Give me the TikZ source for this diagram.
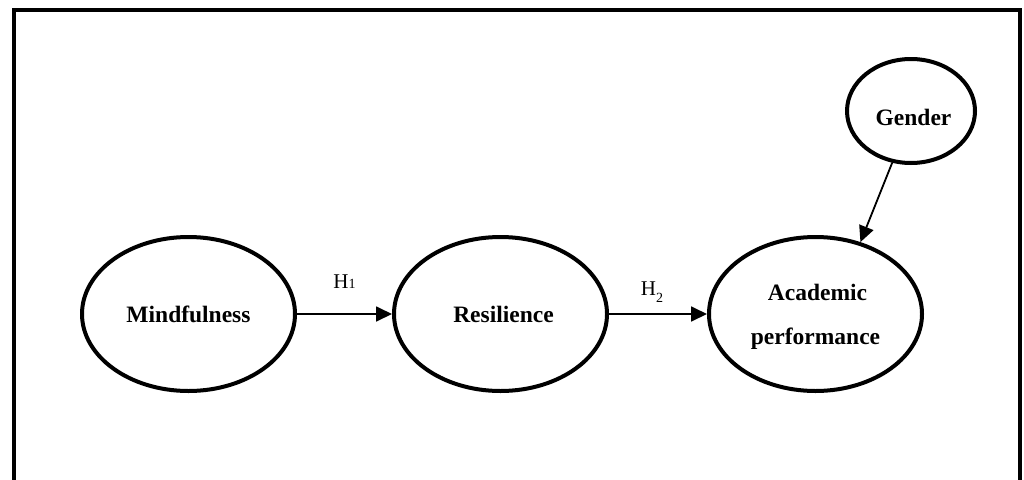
\documentclass[tikz,border=0pt]{standalone}
\usepackage{fontspec}
\setmainfont{Liberation Serif}
\usetikzlibrary{shapes.geometric,arrows.meta}
\newcommand{\downby}[2]{\raisebox{-#1}[0pt][0pt]{#2}}
\tikzset{
  var/.style={ellipse, draw, line width=4pt, inner sep=0pt,
    minimum width=213pt, minimum height=154pt,
    font=\bfseries\fontsize{23.5}{44}\selectfont, align=center},
  small var/.style={var, minimum width=128pt, minimum height=104pt},
  link/.style={line width=1.8pt, -{Triangle[length=16pt,width=15pt]}},
  hyp/.style={font=\fontsize{21}{24}\selectfont, anchor=base, inner sep=0pt}
}
\begin{document}
\begin{tikzpicture}[x=1pt,y=-1pt]
\useasboundingbox (0,0) rectangle (1024,479);
\clip (0,0) rectangle (1024,479);
\draw[line width=4pt, line join=miter] (14.2,500) -- (14.2,10.3) -- (1020,10.3) -- (1020,500);
\node[var] (mind) at (188.5,314) {\downby{8pt}{Mindfulness}};
\node[var] (resil) at (500.5,314) {\downby{8pt}{\hspace*{6pt}Resilience}};
\node[var] (acad) at (815.5,314) {\downby{-13.3pt}{\begin{tabular}[t]{@{}c@{}}\hspace*{4pt}Academic\\performance\end{tabular}}};
\node[small var] (gender) at (911,111) {\downby{14pt}{\hspace*{5pt}Gender}};
\draw[link] (mind) -- node[hyp, pos=.5, yshift=26pt] (h1) {H{\fontsize{14}{14}\selectfont 1}} (resil);
\draw[link] (resil) -- node[hyp, pos=.5, xshift=-6pt, yshift=19pt] (h2) {H\raisebox{-7pt}{\fontsize{14}{14}\selectfont 2}} (acad);
\draw[link] (gender.250) -- (acad.58);
\end{tikzpicture}
\end{document}
